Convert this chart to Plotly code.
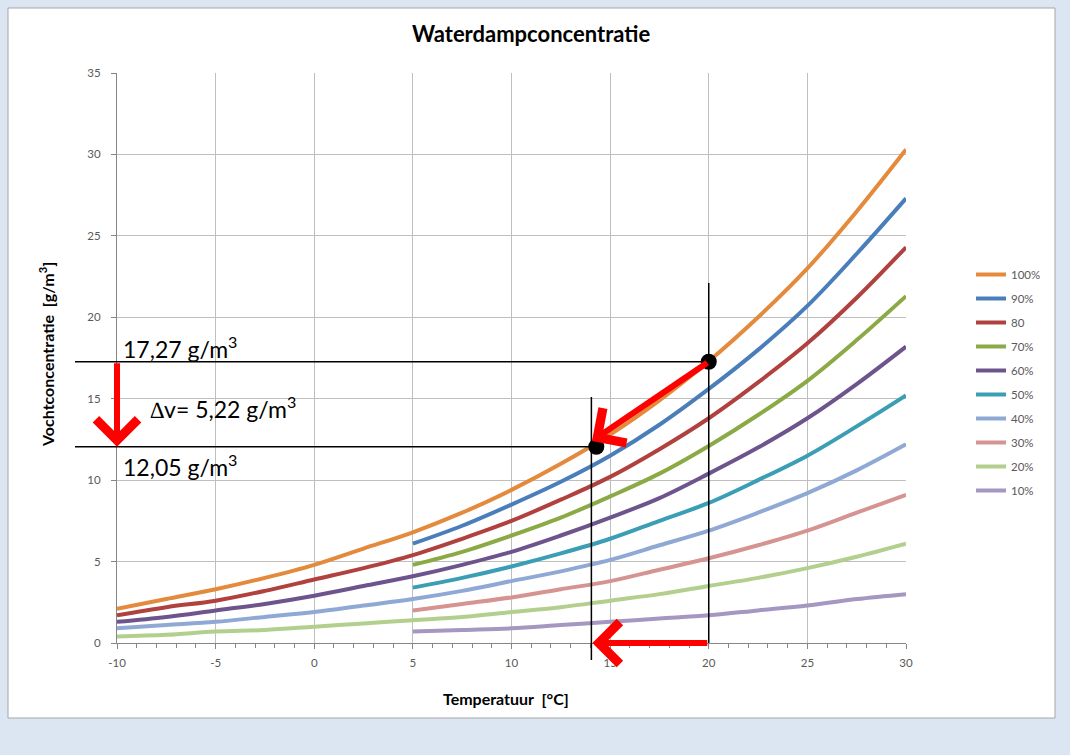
import plotly.graph_objects as go

# ---- data ----
temp_full = [-10, -7.5, -5, -2.5, 0, 2.5, 5, 7.5, 10, 12.5, 15, 17.5, 20, 22.5, 25, 27.5, 30]
temp_half = [5, 7.5, 10, 12.5, 15, 17.5, 20, 22.5, 25, 27.5, 30]

rh100 = [2.1, 2.7, 3.3, 4.0, 4.8, 5.8, 6.8, 8.0, 9.4, 11.0, 12.8, 14.9, 17.3, 20.0, 23.0, 26.5, 30.3]
rh90 = [6.1, 7.2, 8.5, 9.9, 11.5, 13.4, 15.6, 18.0, 20.7, 23.9, 27.3]
rh80 = [1.7, 2.2, 2.6, 3.2, 3.9, 4.6, 5.4, 6.4, 7.5, 8.8, 10.2, 11.9, 13.8, 16.0, 18.4, 21.2, 24.3]
rh70 = [4.8, 5.6, 6.6, 7.7, 9.0, 10.4, 12.1, 14.0, 16.1, 18.6, 21.3]
rh60 = [1.3, 1.6, 2.0, 2.4, 2.9, 3.5, 4.1, 4.8, 5.6, 6.6, 7.7, 8.9, 10.4, 12.0, 13.8, 15.9, 18.2]
rh50 = [3.4, 4.0, 4.7, 5.5, 6.4, 7.5, 8.6, 10.0, 11.5, 13.3, 15.2]
rh40 = [0.9, 1.1, 1.3, 1.6, 1.9, 2.3, 2.7, 3.2, 3.8, 4.4, 5.1, 6.0, 6.9, 8.0, 9.2, 10.6, 12.2]
rh30 = [2.0, 2.4, 2.8, 3.3, 3.8, 4.5, 5.2, 6.0, 6.9, 8.0, 9.1]
rh20 = [0.4, 0.5, 0.7, 0.8, 1.0, 1.2, 1.4, 1.6, 1.9, 2.2, 2.6, 3.0, 3.5, 4.0, 4.6, 5.3, 6.1]
rh10 = [0.7, 0.8, 0.9, 1.1, 1.3, 1.5, 1.7, 2.0, 2.3, 2.7, 3.0]

series_names = ["100%", "90%", "80", "70%", "60%", "50%", "40%", "30%", "20%", "10%"]
series_x = [temp_full, temp_half, temp_full, temp_half, temp_full,
            temp_half, temp_full, temp_half, temp_full, temp_half]
series_y = [rh100, rh90, rh80, rh70, rh60, rh50, rh40, rh30, rh20, rh10]
series_colors = ["#E48A3C", "#4A7EBB", "#B0413E", "#8BAA45", "#6E548D",
                 "#3B9EB5", "#8FA9D4", "#D59492", "#B3CF8E", "#A497C1"]

# example points
point_x = [20, 14.3]
point_y = [17.27, 12.05]
label_top = "17,27 g/m<sup>3</sup>"
label_delta = "\u2206v= 5,22 g/m<sup>3</sup>"
label_bottom = "12,05 g/m<sup>3</sup>"
dew_x = 14.05

x_ticks = [-10, -5, 0, 5, 10, 15, 20, 25, 30]
x_ticktext = ["-10", "-5", "0", "5", "10", "15", "20", "25", "30"]
y_ticks = [0, 5, 10, 15, 20, 25, 30, 35]
y_ticktext = ["0", "5", "10", "15", "20", "25", "30", "35"]

FONT = "Lato"

fig = go.Figure()
for name, xs, ys, col in zip(series_names, series_x, series_y, series_colors):
    fig.add_trace(go.Scatter(x=xs, y=ys, name=name, mode="lines",
                             line=dict(color=col, width=4, shape="spline"),
                             legendgroup=name))

fig.add_trace(go.Scatter(x=point_x, y=point_y, mode="markers", showlegend=False,
                         marker=dict(color="black", size=16)))

# plot area pixel geometry
L, R, T, B = 117, 906, 73, 643
W, H = R - L, B - T

def px_x(p):
    return (p - L) / W

def px_y(p):
    return (B - p) / H

shapes = [
    # white chart area
    dict(type="rect", xref="paper", yref="paper", x0=px_x(8), x1=px_x(1055),
         y0=px_y(718), y1=px_y(8), fillcolor="white",
         line=dict(color="#A6A6A6", width=1), layer="below"),
    # horizontal guide lines
    dict(type="line", xref="paper", yref="y", x0=px_x(75), x1=px_x(L + (20 + 10) * W / 40),
         y0=point_y[0], y1=point_y[0], line=dict(color="black", width=1.5)),
    dict(type="line", xref="paper", yref="y", x0=px_x(75), x1=px_x(L + (point_x[1] + 10) * W / 40),
         y0=point_y[1], y1=point_y[1], line=dict(color="black", width=1.5)),
    # vertical guide lines
    dict(type="line", xref="x", yref="y", x0=20, x1=20, y0=0, y1=22.1,
         line=dict(color="black", width=1.5)),
    dict(type="line", xref="x", yref="paper", x0=dew_x, x1=dew_x, y0=px_y(660), y1=px_y(397),
         line=dict(color="black", width=1.5)),
]

def txt(text, x, y, size, color="black", angle=0, xanchor="center"):
    return dict(text=text, xref="paper", yref="paper", x=px_x(x), y=px_y(y),
                xanchor=xanchor, yanchor="middle", showarrow=False, textangle=angle,
                font=dict(size=size, color=color, family=FONT))

arrow_style = dict(xref="x", yref="y", axref="x", ayref="y", showarrow=True, arrowhead=4,
                   arrowsize=1.35, arrowwidth=6, arrowcolor="#FF0000", text="")

annotations = [
    txt("<b>Waterdampconcentratie</b>", 531, 33, 22),
    txt("<b>Temperatuur  [°C]</b>", 506, 698, 16),
    txt("<b>Vochtconcentratie  [g/m<sup>3</sup>]</b>", 46, 355, 16, angle=-90),
    txt(label_top, 121, 347, 23, xanchor="left"),
    txt(label_delta, 148, 407, 23, xanchor="left"),
    txt(label_bottom, 121, 466, 23, xanchor="left"),
    # red arrows
    dict(x=14.08, y=12.4, ax=point_x[0], ay=point_y[0], **arrow_style),
    dict(x=-10, y=point_y[1], ax=-10, ay=point_y[0], **arrow_style),
    dict(x=14.1, y=0, ax=20, ay=0, **arrow_style),
]

fig.update_layout(
    width=1070, height=755,
    margin=dict(l=L, r=1070 - R, t=T, b=755 - B, pad=0),
    paper_bgcolor="#DCE6F2", plot_bgcolor="white",
    font=dict(family=FONT, color="#595959", size=11),
    shapes=shapes, annotations=annotations,
    legend=dict(x=px_x(971), y=px_y(260), xanchor="left", yanchor="top",
                bgcolor="rgba(0,0,0,0)", itemwidth=30, tracegroupgap=5,
                font=dict(size=11.5, color="#595959", family=FONT)),
    showlegend=True,
)
fig.update_xaxes(range=[-10, 30], tickvals=x_ticks, ticktext=x_ticktext, showgrid=True,
                 gridcolor="#BFBFBF",
                 showline=True, linecolor="#868686", ticks="outside", ticklen=5, tickcolor="#868686",
                 minor=dict(dtick=1, ticks="outside", ticklen=4, tickcolor="#868686", showgrid=False),
                 zeroline=False, ticklabelstandoff=4, tickfont=dict(size=11.5, color="#595959"))
fig.update_yaxes(range=[0, 35], tickvals=y_ticks, ticktext=y_ticktext, showgrid=True,
                 gridcolor="#BFBFBF",
                 showline=True, linecolor="#868686", ticks="outside", ticklen=5, tickcolor="#868686",
                 zeroline=False, ticklabelstandoff=8, tickfont=dict(size=11.5, color="#595959"))

fig.write_html(
    "out.html",
    config={"displayModeBar": False},
    post_script="document.body.style.margin='0';document.body.style.overflow='hidden';"
                "document.body.style.background='#DCE6F2';",
)
